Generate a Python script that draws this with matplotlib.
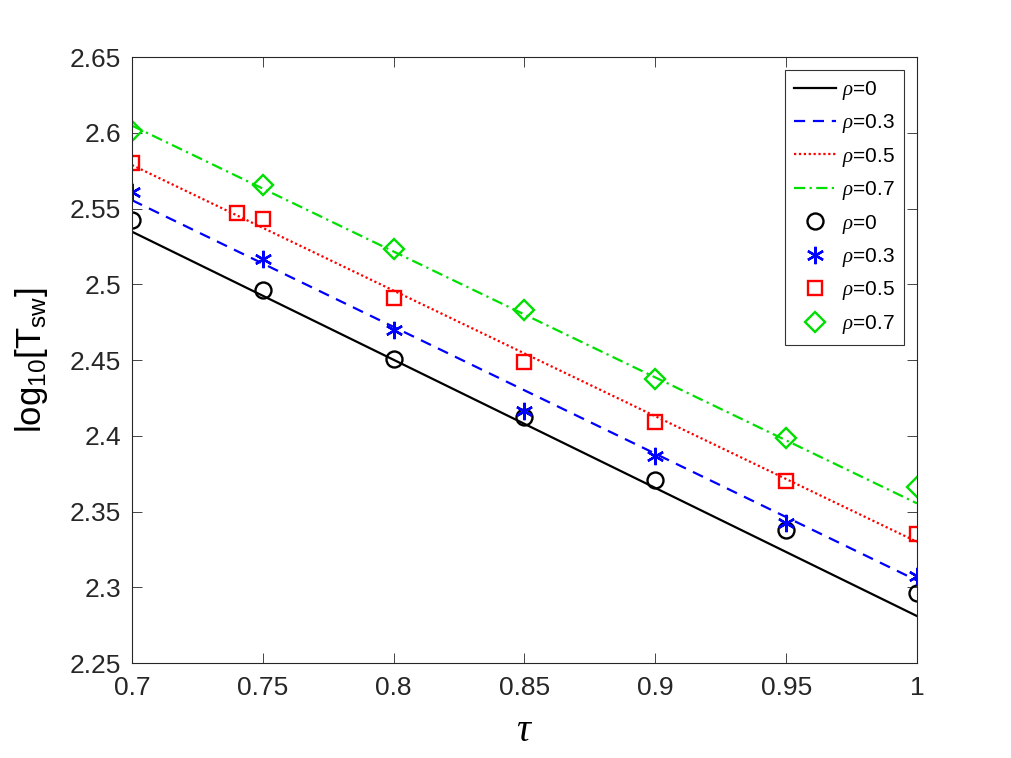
import numpy as np
import matplotlib
matplotlib.use('Agg')
import matplotlib.pyplot as plt

plt.rcParams['font.family'] = ['Liberation Sans', 'DejaVu Sans']
plt.rcParams['mathtext.fontset'] = 'custom'
plt.rcParams['mathtext.rm'] = 'Liberation Sans'
plt.rcParams['mathtext.it'] = 'Liberation Serif:italic'
plt.rcParams['mathtext.sf'] = 'Liberation Sans'

# simulation points
tau = [0.7, 0.75, 0.8, 0.85, 0.9, 0.95, 1.0]
rho0 = [2.5424, 2.4962, 2.4505, 2.4126, 2.3708, 2.3378, 2.2960]
rho3 = [2.5611, 2.5165, 2.4698, 2.4165, 2.3866, 2.3422, 2.3074]
tau5 = [0.7, 0.74, 0.75, 0.8, 0.85, 0.9, 0.95, 1.0]
rho5 = [2.5798, 2.5468, 2.5431, 2.4907, 2.4489, 2.4089, 2.3701, 2.3349]
rho7 = [2.6010, 2.5655, 2.5231, 2.4830, 2.4372, 2.3983, 2.3664]

# fitted lines, value at tau=0.7 and tau=1
fit_tau = [0.7, 1.0]
fit0 = [2.5347, 2.2810]
fit3 = [2.5555, 2.3045]
fit5 = [2.5787, 2.3300]
fit7 = [2.6047, 2.3554]

fig = plt.figure(figsize=(10.12, 7.58), dpi=100)
ax = fig.add_axes([0.1304, 0.1253, 0.7757, 0.7995])

lw = 1.6
ax.plot(fit_tau, fit0, color='k', linestyle='-', linewidth=lw, label=r'$\rho$=0')
ax.plot(fit_tau, fit3, color='b', linestyle=(0, (5, 3.5)), linewidth=lw, label=r'$\rho$=0.3')
ax.plot(fit_tau, fit5, color='r', linestyle=(0, (1, 1.2)), linewidth=lw, label=r'$\rho$=0.5')
ax.plot(fit_tau, fit7, color='#00e000', linestyle=(0, (5, 2, 1, 2)), linewidth=lw, label=r'$\rho$=0.7')

ms = 11.5
mew = 1.7
ax.plot(tau, rho0, 'o', mfc='none', mec='k', ms=ms, mew=mew, label=r'$\rho$=0')
ax.plot(tau, rho3, linestyle='none', marker=(6, 2, 0), color='b', ms=ms + 1, mew=mew, label=r'$\rho$=0.3')
ax.plot(tau5, rho5, 's', mfc='none', mec='r', ms=ms - 1.5, mew=mew, label=r'$\rho$=0.5')
ax.plot(tau, rho7, 'D', mfc='none', mec='#00e000', ms=ms - 1, mew=mew, label=r'$\rho$=0.7')

ax.set_xlim(0.7, 1.0)
ax.set_ylim(2.25, 2.65)
ax.set_xticks([0.7, 0.75, 0.8, 0.85, 0.9, 0.95, 1.0])
ax.set_xticklabels(['0.7', '0.75', '0.8', '0.85', '0.9', '0.95', '1'])
ax.set_yticks(np.arange(2.25, 2.651, 0.05))
ax.set_yticklabels(['2.25', '2.3', '2.35', '2.4', '2.45', '2.5', '2.55', '2.6', '2.65'])
ax.tick_params(direction='in', top=True, right=True, length=7, width=0.6,
               labelsize=19, colors='#262626')
ax.tick_params(axis='x', pad=9)
ax.tick_params(axis='y', pad=8)
for sp in ax.spines.values():
    sp.set_linewidth(0.8)
    sp.set_color('#262626')

ax.set_xlabel(r'$\tau$', fontsize=28, labelpad=10)
ax.set_ylabel(r'log$_{\mathrm{10}}$[T$_{\mathrm{sw}}$]', fontsize=25, labelpad=14)

leg = ax.legend(loc='upper right', fontsize=15, frameon=True, fancybox=False,
                borderaxespad=0.6, handlelength=2.0, labelspacing=0.5,
                handletextpad=0.3, borderpad=0.45)
leg.get_frame().set_edgecolor('k')
leg.get_frame().set_linewidth(0.8)

fig.savefig('out.png', dpi=100)
